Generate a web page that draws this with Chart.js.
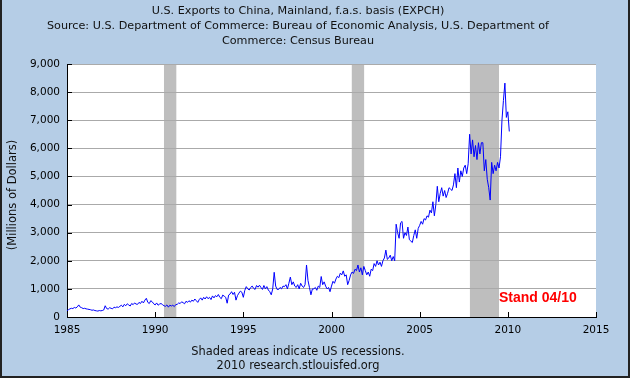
<!DOCTYPE html>
<html>
<head>
<meta charset="utf-8">
<script src="https://cdn.jsdelivr.net/npm/chart.js@4/dist/chart.umd.min.js"></script>
<style>
html,body{margin:0;padding:0;background:#b5cde6;}
canvas{display:block;}
</style>
</head>
<body>
<canvas id="c" width="630" height="378"></canvas>
<script>
// ---- data (millions of dollars, monthly, starting Jan 1985) ----
const startYear = 1985;
const exportsMillions = [
  225,260,290,310,300,340,320,360,430,350,330,300,   // 1985
  310,290,280,270,260,240,250,230,220,210,230,220,   // 1986
  230,250,400,300,280,330,310,290,350,330,360,340,   // 1987
  380,420,360,450,400,470,430,390,480,440,500,460,   // 1988
  450,520,480,560,500,600,665,520,480,580,540,470,   // 1989
  430,500,420,460,480,440,400,380,430,350,420,390,   // 1990
  420,370,440,450,500,480,540,510,470,560,520,580,   // 1991
  530,600,560,640,580,520,620,680,600,700,640,720,   // 1992
  650,700,620,750,680,760,720,800,700,650,780,740,   // 1993
  700,490,780,820,900,800,880,600,760,850,920,880,   // 1994
  700,950,1080,1000,960,1050,1100,1020,980,1120,1060,1130, // 1995
  1050,980,1120,1000,1080,960,900,790,1000,1590,1100,980,  // 1996
  980,1050,1000,1100,1080,1150,1000,1200,1420,1150,1250,1100, // 1997
  1050,1150,1000,1200,1100,1050,1150,1850,1300,1050,790,1000, // 1998
  1000,1050,950,1100,1050,1440,1150,1250,1100,1000,1050,900,  // 1999
  1100,1270,1200,1350,1450,1400,1560,1500,1640,1450,1500,1150, // 2000
  1300,1500,1600,1550,1700,1650,1850,1600,1750,1500,1800,1650, // 2001
  1500,1600,1450,1700,1650,1900,1800,2000,1850,1950,1800,2000, // 2002
  2100,2380,2050,2100,2200,2000,2150,2000,3300,3000,2800,3350, // 2003
  3400,2800,3000,2900,3200,2750,2700,2650,2900,3100,2800,3150, // 2004
  3260,3400,3300,3500,3450,3600,3550,3800,3700,4100,3600,4000, // 2005
  4650,4100,4400,4600,4300,4500,4250,4400,4600,4550,4500,4700, // 2006
  5100,4600,5300,4800,5200,5000,5300,5400,5100,5450,6500,5800, // 2007
  6300,5700,6100,5600,6200,5800,6200,6200,5200,5600,4900,4600, // 2008
  4160,5500,5100,5400,5200,5500,5300,5700,7000,7700,8320,7100, // 2009
  7300,6600                                                    // 2010
];
const recessionStarts = [1990.5, 2001.15, 2007.85];
const recessionEnds   = [1991.2, 2001.85, 2009.5];
const xTickYears = [1985, 1990, 1995, 2000, 2005, 2010, 2015];
const yTickValues = [0,1000,2000,3000,4000,5000,6000,7000,8000,9000];
const titleLines = [
  'U.S. Exports to China, Mainland, f.a.s. basis (EXPCH)',
  'Source: U.S. Department of Commerce: Bureau of Economic Analysis, U.S. Department of',
  'Commerce: Census Bureau'
];
const footerLines = ['Shaded areas indicate US recessions.', '2010 research.stlouisfed.org'];
const yAxisTitle = '(Millions of Dollars)';
const stampText = 'Stand 04/10';

const points = exportsMillions.map((v, i) => ({ x: startYear + i / 12, y: v }));

const FONT = 'DejaVu Sans';

const framePlugin = {
  id: 'frame',
  beforeDraw(chart) {
    const { ctx, chartArea: a, width, height } = chart;
    ctx.save();
    ctx.fillStyle = '#b5cde6';
    ctx.fillRect(0, 0, width, height);
    ctx.fillStyle = '#222';
    ctx.fillRect(0, 0, 2, height);
    ctx.fillRect(width - 2, 0, 2, height);
    ctx.fillRect(0, height - 2, width, 2);
    ctx.fillStyle = '#ffffff';
    ctx.fillRect(a.left, a.top, a.right - a.left, a.bottom - a.top);
    // recession shading
    const xs = chart.scales.x;
    ctx.fillStyle = '#bebebe';
    recessionStarts.forEach((s, i) => {
      const x0 = xs.getPixelForValue(s), x1 = xs.getPixelForValue(recessionEnds[i]);
      ctx.fillRect(x0, a.top, x1 - x0, a.bottom - a.top);
    });
    ctx.restore();
  },
  afterDraw(chart) {
    const { ctx, chartArea: a } = chart;
    const xs = chart.scales.x, ys = chart.scales.y;
    ctx.save();
    ctx.strokeStyle = '#000';
    ctx.lineWidth = 1;
    ctx.beginPath();
    xTickYears.forEach(t => {
      const x = Math.round(xs.getPixelForValue(t)) + 0.5;
      ctx.moveTo(x, a.bottom);
      ctx.lineTo(x, a.bottom - 5);
    });
    yTickValues.forEach(v => {
      const y = Math.round(ys.getPixelForValue(v)) + 0.5;
      ctx.moveTo(a.left, y);
      ctx.lineTo(a.left + 5, y);
    });
    ctx.stroke();
    // y-axis title
    ctx.save();
    ctx.translate(13, (a.top + a.bottom) / 2 + 4.5);
    ctx.rotate(-Math.PI / 2);
    ctx.fillStyle = '#111';
    ctx.font = '11.5px "' + FONT + '"';
    ctx.textAlign = 'center';
    ctx.textBaseline = 'middle';
    ctx.fillText(yAxisTitle, 0, 0);
    ctx.restore();
    // stamp
    ctx.fillStyle = '#ff0000';
    ctx.font = 'bold 14px "Liberation Sans", Arial, sans-serif';
    ctx.textBaseline = 'middle';
    ctx.textAlign = 'left';
    ctx.fillText(stampText, 499, 298);
    ctx.restore();
  }
};

new Chart(document.getElementById('c'), {
  type: 'line',
  data: {
    datasets: [{
      data: points,
      borderColor: '#0000ff',
      borderWidth: 1,
      pointRadius: 0,
      tension: 0,
      fill: false
    }]
  },
  options: {
    responsive: false,
    animation: false,
    devicePixelRatio: 1,
    layout: { padding: { left: 0, right: 34, top: 0, bottom: 0 } },
    plugins: {
      legend: { display: false },
      tooltip: { enabled: false },
      title: {
        display: true,
        text: titleLines,
        color: '#111',
        font: { family: FONT, size: 11.2, weight: 'normal', lineHeight: 15 / 11.2 },
        padding: { top: 4, bottom: 15 },
        fullSize: true
      },
      subtitle: {
        display: true,
        position: 'bottom',
        text: footerLines,
        color: '#111',
        font: { family: FONT, size: 11.4, weight: 'normal', lineHeight: 14 / 11.4 },
        padding: { top: 0, bottom: 5 },
        fullSize: true
      }
    },
    scales: {
      x: {
        type: 'linear',
        min: 1985,
        max: 2015,
        afterFit(scale) { scale.height = 28; },
        afterBuildTicks(scale) { scale.ticks = xTickYears.map(v => ({ value: v })); },
        ticks: {
          color: '#000',
          font: { family: FONT, size: 10.5 },
          padding: 7,
          maxRotation: 0,
          autoSkip: false,
          callback: v => String(v)
        },
        grid: { display: false, drawTicks: false },
        border: { display: true, color: '#000', width: 1 }
      },
      y: {
        min: 0,
        max: 9000,
        afterFit(scale) { scale.width = 67; },
        afterBuildTicks(scale) { scale.ticks = yTickValues.map(v => ({ value: v })); },
        ticks: {
          color: '#000',
          font: { family: FONT, size: 10.5 },
          padding: 7,
          callback: v => v.toLocaleString('en-US')
        },
        grid: { color: '#aaaaaa', lineWidth: 1, drawTicks: false },
        border: { display: true, color: '#000', width: 1 },
        title: { display: false }
      }
    }
  },
  plugins: [framePlugin]
});
</script>
</body>
</html>
